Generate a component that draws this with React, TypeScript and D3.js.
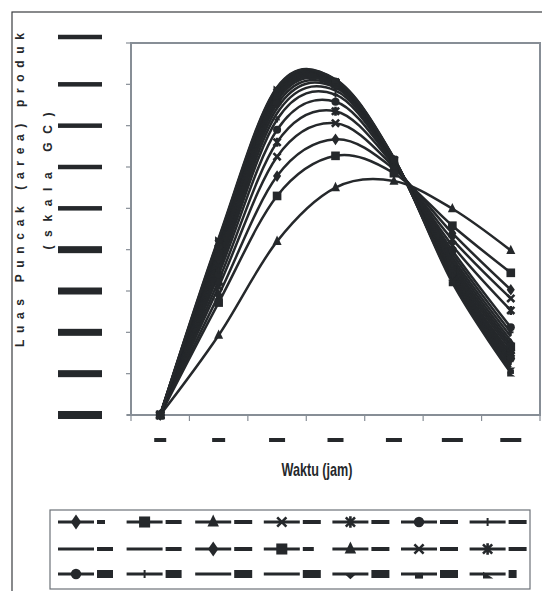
import React from 'react';
import * as d3 from 'd3';

// categories along the x axis (tick labels are rendered as solid bars in the reference)
const categories = ['0', '1', '2', '3', '4', '5', '6'];
const yTicks = [0, 1, 2, 3, 4, 5, 6, 7, 8, 9];

// series values
const s1 = [0, 2.9, 5.78, 6.67, 5.95, 4.4, 3.03];
const s2 = [0, 2.72, 5.3, 6.27, 5.85, 4.58, 3.44];
const s3 = [0, 1.93, 4.2, 5.5, 5.66, 4.99, 3.98];
const s4 = [0, 3.1, 6.25, 7.06, 6.0, 4.25, 2.82];
const s5 = [0, 3.25, 6.6, 7.35, 6.05, 4.1, 2.53];
const s6 = [0, 3.4, 6.9, 7.58, 6.08, 3.98, 2.12];
const s7 = [0, 3.5, 7.15, 7.75, 6.1, 3.9, 2.0];
const s8 = [0, 3.6, 7.3, 7.85, 6.12, 3.82, 1.9];
const s9 = [0, 3.7, 7.42, 7.92, 6.12, 3.75, 1.8];
const s10 = [0, 3.78, 7.52, 7.96, 6.14, 3.68, 1.72];
const s11 = [0, 3.85, 7.6, 8.0, 6.15, 3.62, 1.65];
const s12 = [0, 3.92, 7.66, 8.02, 6.15, 3.56, 1.58];
const s13 = [0, 3.98, 7.71, 8.04, 6.16, 3.5, 1.5];
const s14 = [0, 4.03, 7.75, 8.05, 6.17, 3.46, 1.43];
const s15 = [0, 4.08, 7.79, 8.06, 6.18, 3.42, 1.37];
const s16 = [0, 4.12, 7.82, 8.07, 6.18, 3.38, 1.3];
const s17 = [0, 4.16, 7.85, 8.08, 6.19, 3.34, 1.25];
const s18 = [0, 4.19, 7.87, 8.09, 6.2, 3.3, 1.2];
const s19 = [0, 4.22, 7.89, 8.1, 6.2, 3.27, 1.15];
const s20 = [0, 4.25, 7.91, 8.11, 6.21, 3.24, 1.08];
const s21 = [0, 4.28, 7.93, 8.12, 6.22, 3.2, 1.02];

const seriesList = [s1, s2, s3, s4, s5, s6, s7, s8, s9, s10, s11, s12, s13, s14, s15, s16, s17, s18, s19, s20, s21];
const seriesMarkers = [
  'diamond', 'square', 'triangle', 'x', 'star', 'circle', 'plus',
  'none', 'none', 'diamond', 'square', 'triangle', 'x', 'star',
  'circle', 'plus', 'none', 'none', 'triangleDown', 'smallSquare', 'arrow',
];

// layout constants
const W = 542;
const H = 591;
const plot = { left: 131, right: 540, top: 43, bottom: 415 };
const INK = '#25282b';
const FRAME = '#878e96';
const xLabelBarWidths = [12, 13, 16, 16, 16, 21, 21];
const legendBarWidths = [
  [8, 16, 18, 18, 18, 18, 18],
  [16, 16, 18, 11, 18, 18, 18],
  [16, 16, 18, 18, 18, 18, 8],
];
const legendBarHeights = [4, 4, 8];
const legendRowsY = [522, 549, 574];

function Marker({ type, cx, cy, s }: { type: string; cx: number; cy: number; s: number }) {
  const t = `translate(${cx},${cy})`;
  switch (type) {
    case 'diamond':
      return <path transform={t} d={`M0,${-6.5 * s}L${4.5 * s},0L0,${6.5 * s}L${-4.5 * s},0Z`} fill={INK} />;
    case 'square':
      return <rect transform={t} x={-4.8 * s} y={-4.8 * s} width={9.6 * s} height={9.6 * s} fill={INK} />;
    case 'triangle':
      return <path transform={t} d={`M0,${-6.5 * s}L${5 * s},${4 * s}L${-5 * s},${4 * s}Z`} fill={INK} />;
    case 'x':
      return (
        <path transform={t} d={`M${-4 * s},${-4 * s}L${4 * s},${4 * s}M${4 * s},${-4 * s}L${-4 * s},${4 * s}`}
          stroke={INK} strokeWidth={2.6} fill="none" />
      );
    case 'star':
      return (
        <path transform={t}
          d={`M${-4 * s},${-4 * s}L${4 * s},${4 * s}M${4 * s},${-4 * s}L${-4 * s},${4 * s}M0,${-5 * s}L0,${5 * s}`}
          stroke={INK} strokeWidth={2.6} fill="none" />
      );
    case 'circle':
      return <circle cx={cx} cy={cy} r={4.5 * s} fill={INK} />;
    case 'plus':
      return (
        <path transform={t} d={`M${-3 * s},0L${3 * s},0M0,${-3.5 * s}L0,${3.5 * s}`}
          stroke={INK} strokeWidth={2} fill="none" />
      );
    case 'triangleDown':
      return <path transform={t} d={`M${-5 * s},0L${5 * s},0L0,${4.5 * s}Z`} fill={INK} />;
    case 'smallSquare':
      return <rect transform={t} x={-3.5 * s} y={-1 * s} width={7 * s} height={5 * s} fill={INK} />;
    case 'arrow':
      return <path transform={t} d={`M${-4 * s},${-2 * s}L${5 * s},${4 * s}L${-4 * s},${4 * s}Z`} fill={INK} />;
    default:
      return null;
  }
}

export default function App() {
  const x = d3.scaleBand<string>().domain(categories).range([plot.left, plot.right]).paddingInner(0).paddingOuter(0);
  const y = d3.scaleLinear().domain([0, 9]).range([plot.bottom, plot.top]);
  const line = d3
    .line<number>()
    .x((_, i) => (x(categories[i]) as number) + x.bandwidth() / 2)
    .y((d) => y(d))
    .curve(d3.curveCardinal.tension(0));

  const boundaries = categories.map((c) => x(c) as number).concat([plot.right]);

  return (
    <svg width={W} height={H} style={{ position: 'absolute', left: 0, top: 0, background: '#fff' }}
      fontFamily="'Liberation Sans', Arial, sans-serif">
      <rect x={0} y={0} width={W} height={H} fill="#fff" />
      {/* outer chart frame */}
      <rect x={12} y={12} width={W} height={H} fill="none" stroke="#3a3d40" strokeWidth={1.2} />

      {/* y axis title */}
      <text transform="translate(23.5,190) rotate(-90)" textAnchor="middle" fontSize={12} fontWeight="bold"
        fill={INK} textLength={314} lengthAdjust="spacing">Luas Puncak (area) produk</text>
      <text transform="translate(51.5,181) rotate(-90)" textAnchor="middle" fontSize={12} fontWeight="bold"
        fill={INK} textLength={137} lengthAdjust="spacing">(skala GC)</text>

      {/* y tick labels (solid bars) */}
      {yTicks.map((v) => {
        const h = v <= 4 ? (v === 0 ? 8 : 7) : 4.5;
        return <rect key={'yl' + v} x={58} y={y(v) - h / 2 - (v === 9 ? 6 : 0)} width={44} height={h} fill={INK} />;
      })}

      {/* plot frame */}
      <rect x={plot.left} y={plot.top} width={plot.right - plot.left} height={plot.bottom - plot.top}
        fill="#fff" stroke={FRAME} strokeWidth={2} />
      {/* y ticks */}
      {yTicks.map((v) => (
        <line key={'yt' + v} x1={plot.left - 5} x2={plot.left} y1={y(v)} y2={y(v)} stroke={FRAME} strokeWidth={1.2} />
      ))}
      {/* x axis */}
      <line x1={plot.left - 4} x2={plot.right} y1={plot.bottom} y2={plot.bottom} stroke={FRAME} strokeWidth={2} />
      {boundaries.map((bx, i) => (
        <line key={'xt' + i} x1={bx} x2={bx} y1={plot.bottom} y2={plot.bottom + 6} stroke={FRAME} strokeWidth={1.2} />
      ))}
      {/* x tick labels (solid bars) */}
      {categories.map((c, i) => {
        const cx = (x(c) as number) + x.bandwidth() / 2;
        const w = xLabelBarWidths[i];
        return <rect key={'xl' + c} x={cx - w / 2} y={438} width={w} height={4} fill={INK} />;
      })}

      {/* x axis title */}
      <text x={317} y={476} textAnchor="middle" fontSize={19} fontWeight="bold"
        fontFamily="'Liberation Sans Narrow', 'Liberation Sans', Arial, sans-serif"
        fill={INK} textLength={71} lengthAdjust="spacingAndGlyphs">Waktu (jam)</text>

      {/* series lines */}
      <g>
        {seriesList.map((vals, si) => (
          <path key={'l' + si} d={line(vals) || ''} fill="none" stroke={INK} strokeWidth={2.5} strokeLinejoin="round" />
        ))}
      </g>
      {/* series markers */}
      <g>
        {seriesList.map((vals, si) =>
          vals.map((v, i) => (
            <Marker key={'m' + si + '-' + i} type={seriesMarkers[si]}
              cx={(x(categories[i]) as number) + x.bandwidth() / 2} cy={y(v)} s={0.9} />
          ))
        )}
      </g>

      {/* legend */}
      <rect x={50} y={510} width={480} height={79} fill="#fff" stroke="#6d7278" strokeWidth={1.2} />
      {seriesList.map((_, si) => {
        const row = Math.floor(si / 7);
        const col = si % 7;
        const x0 = 58 + col * 68.6;
        const ly = legendRowsY[row];
        const bw = legendBarWidths[row][col];
        const bh = legendBarHeights[row];
        return (
          <g key={'lg' + si}>
            <line x1={x0} x2={x0 + 36} y1={ly} y2={ly} stroke={INK} strokeWidth={3} />
            <Marker type={seriesMarkers[si]} cx={x0 + 18} cy={ly} s={1.15} />
            <rect x={x0 + 39} y={ly - bh / 2} width={bw} height={bh} fill={INK} />
          </g>
        );
      })}
    </svg>
  );
}
